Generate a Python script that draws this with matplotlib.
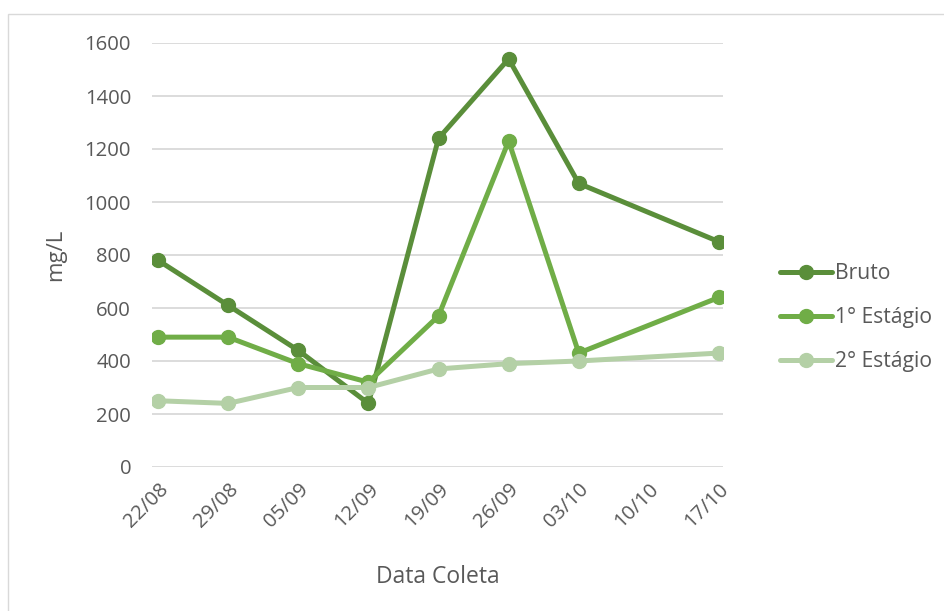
import numpy as np
import matplotlib
matplotlib.use("Agg")
import matplotlib.pyplot as plt
from matplotlib.patches import Rectangle

# Collection dates and measured concentrations (mg/L); 10/10 has no sample
datas = ["22/08", "29/08", "05/09", "12/09", "19/09", "26/09", "03/10", "10/10", "17/10"]
bruto = [780, 610, 440, 240, 1240, 1540, 1070, None, 850]
estagio1 = [490, 490, 390, 320, 570, 1230, 430, None, 640]
estagio2 = [250, 240, 300, 300, 370, 390, 400, None, 430]
y_ticks = [0, 200, 400, 600, 800, 1000, 1200, 1400, 1600]

series = [
    ("Bruto", bruto, "#5A8E3A"),
    ("1° Estágio", estagio1, "#70AD47"),
    ("2° Estágio", estagio2, "#B4D0A6"),
]

plt.rcParams["font.family"] = ["Open Sans", "DejaVu Sans"]
text_color = "#595959"

fig = plt.figure(figsize=(9.44, 6.11), dpi=100)
ax = fig.add_axes([152 / 944, 144 / 611, 571 / 944, 424 / 611])

x = np.arange(len(datas))
for nome, valores, cor in series:
    v = np.array([np.nan if val is None else val for val in valores], dtype=float)
    ok = ~np.isnan(v)
    ax.plot(x[ok], v[ok], color=cor, lw=3.6, marker="o", markersize=10,
            solid_capstyle="round", solid_joinstyle="round", label=nome, zorder=3)

ax.set_xlim(-0.086, 8.057)
ax.set_ylim(0, 1600)
ax.set_yticks(y_ticks)
ax.set_xticks(x)
ax.set_xticklabels(datas, rotation=45, ha="right", rotation_mode="anchor")
ax.tick_params(axis="both", length=0, labelsize=14.6, colors=text_color)
ax.tick_params(axis="x", pad=9)
ax.tick_params(axis="y", pad=15)
ax.grid(axis="y", color="#D9D9D9", lw=1.3, zorder=0)
for s in ax.spines.values():
    s.set_visible(False)

ax.set_ylabel("mg/L", fontsize=16, color=text_color, labelpad=13)
ax.set_xlabel("Data Coleta", fontsize=16.5, color=text_color, labelpad=24)

fig.legend(loc="upper left", bbox_to_anchor=(761 / 944, 1 - 244 / 611),
           frameon=False, fontsize=15.2, handlelength=2.45, labelspacing=1.1,
           handletextpad=0.15, labelcolor=text_color)

fig.patches.append(Rectangle((8 / 944, -0.01), 1.0, 1 - 14 / 611 + 0.01,
                             transform=fig.transFigure, fill=False,
                             edgecolor="#D9D9D9", lw=1))

fig.savefig("out.png", dpi=100)
